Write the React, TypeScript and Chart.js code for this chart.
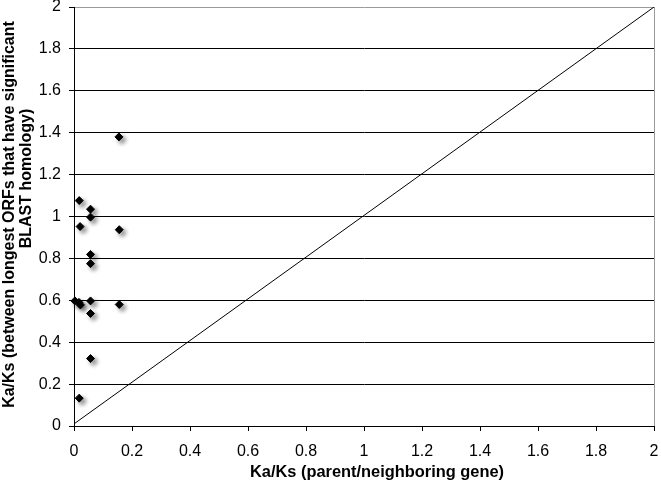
import React, { useEffect, useRef } from "react";
import { Chart, registerables } from "chart.js";

Chart.register(...registerables);

// Scatter data: Ka/Ks parent/neighboring (x) vs Ka/Ks between longest ORFs (y)
const xValues = [0.155, 0.018, 0.057, 0.057, 0.021, 0.156, 0.057, 0.057, 0.003, 0.017, 0.022, 0.057, 0.156, 0.057, 0.057, 0.018];
const yValues = [1.38, 1.076, 1.035, 0.997, 0.952, 0.937, 0.819, 0.775, 0.597, 0.59, 0.578, 0.597, 0.58, 0.537, 0.322, 0.133];

// Reference diagonal line
const lineX = [0, 2];
const lineY = [0.01, 2];

const xTickLabels = ["0", "0.2", "0.4", "0.6", "0.8", "1", "1.2", "1.4", "1.6", "1.8", "2"];
const yTickLabels = ["0", "0.2", "0.4", "0.6", "0.8", "1", "1.2", "1.4", "1.6", "1.8", "2"];

const xTitle = "Ka/Ks (parent/neighboring gene)";
const yTitle = ["Ka/Ks (between longest ORFs that have significant", "BLAST homology)"];

const FONT = "'Liberation Sans', Arial, Helvetica, sans-serif";

export default function App() {
  const canvasRef = useRef<HTMLCanvasElement | null>(null);

  useEffect(() => {
    if (!canvasRef.current) return;
    const shadowPlugin = {
      id: "shadowPts",
      beforeDatasetDraw(chart: any, args: any) {
        if (args.index === 0) {
          const ctx = chart.ctx;
          ctx.save();
          ctx.shadowColor = "rgba(0,0,0,0.45)";
          ctx.shadowBlur = 4;
          ctx.shadowOffsetX = 3;
          ctx.shadowOffsetY = 3;
        }
      },
      afterDatasetDraw(chart: any, args: any) {
        if (args.index === 0) chart.ctx.restore();
      },
    };
    const borderPlugin = {
      id: "rightBorder",
      beforeDatasetsDraw(chart: any) {
        const { ctx, chartArea } = chart;
        ctx.save();
        ctx.strokeStyle = "#9a9a9a";
        ctx.lineWidth = 1;
        ctx.beginPath();
        ctx.moveTo(Math.round(chartArea.right) + 0.5, chartArea.top);
        ctx.lineTo(Math.round(chartArea.right) + 0.5, chartArea.bottom);
        ctx.stroke();
        ctx.restore();
      },
    };
    const titlesPlugin = {
      id: "axisTitles",
      afterDraw(chart: any) {
        const { ctx, chartArea } = chart;
        const midY = (chartArea.top + chartArea.bottom) / 2;
        const midX = (chartArea.left + chartArea.right) / 2;
        const centers = [
          { x: 10, y: midY - 2 },
          { x: 27, y: midY - 38 },
        ];
        ctx.save();
        ctx.fillStyle = "#000";
        ctx.textAlign = "center";
        ctx.textBaseline = "middle";
        ctx.font = `bold 16px ${FONT}`;
        yTitle.forEach((t, i) => {
          ctx.save();
          ctx.translate(centers[i].x, centers[i].y);
          ctx.rotate(-Math.PI / 2);
          ctx.fillText(t, 0, 0);
          ctx.restore();
        });
        ctx.font = `bold 16.4px ${FONT}`;
        ctx.fillText(xTitle, midX + 13, chartArea.bottom + 46);
        ctx.restore();
      },
    };

    const pts = xValues.map((x, i) => ({ x, y: yValues[i] }));
    const line = lineX.map((x, i) => ({ x, y: lineY[i] }));

    const chart = new Chart(canvasRef.current, {
      type: "scatter",
      data: {
        datasets: [
          {
            data: pts,
            pointStyle: "rectRot",
            pointRadius: 4,
            pointBackgroundColor: "#000",
            pointBorderColor: "#000",
            pointBorderWidth: 1,
            clip: false,
          } as any,
          {
            data: line,
            showLine: true,
            borderColor: "#000",
            borderWidth: 1,
            pointRadius: 0,
          } as any,
        ],
      },
      options: {
        animation: false,
        responsive: false,
        devicePixelRatio: 1,
        layout: { padding: { left: 0, top: 7, right: 7, bottom: 0 } },
        plugins: { legend: { display: false }, tooltip: { enabled: false } },
        scales: {
          x: {
            type: "linear",
            min: 0,
            max: 2,
            afterFit: (s: any) => {
              s.height = 59;
              s.paddingLeft = 0;
              s.paddingRight = 0;
            },
            afterBuildTicks: (s: any) => {
              s.ticks = xTickLabels.map((_, i) => ({ value: i * 0.2 }));
            },
            ticks: {
              stepSize: 0.2,
              maxRotation: 0,
              autoSkip: false,
              padding: 11,
              color: "#000",
              font: { family: FONT, size: 16 },
              callback: (_v: any, i: number) => xTickLabels[i],
            },
            grid: { drawOnChartArea: false, drawTicks: true, tickLength: 5, tickColor: "#000", color: "#000" },
            border: { display: true, color: "#000", width: 1 },
            title: { display: false },
          },
          y: {
            type: "linear",
            min: 0,
            max: 2,
            afterFit: (s: any) => {
              s.width = 74;
              s.paddingTop = 0;
              s.paddingBottom = 0;
            },
            afterBuildTicks: (s: any) => {
              s.ticks = yTickLabels.map((_, i) => ({ value: i * 0.2 }));
            },
            ticks: {
              stepSize: 0.2,
              autoSkip: false,
              padding: 8,
              color: "#000",
              font: { family: FONT, size: 16 },
              callback: (_v: any, i: number) => yTickLabels[i],
            },
            grid: {
              drawTicks: true,
              tickLength: 5,
              tickColor: "#000",
              color: (c: any) => (c.index === yTickLabels.length - 1 ? "#9a9a9a" : "#000"),
              lineWidth: 1,
            },
            border: { display: true, color: "#000", width: 1 },
            title: { display: false },
          },
        },
      },
      plugins: [shadowPlugin, borderPlugin, titlesPlugin],
    } as any);
    return () => chart.destroy();
  }, []);

  return (
    <div style={{ position: "absolute", left: 0, top: 0, width: 661, height: 485, background: "#fff" }}>
      <canvas ref={canvasRef} width={661} height={485} style={{ width: 661, height: 485, display: "block" }} />
    </div>
  );
}
